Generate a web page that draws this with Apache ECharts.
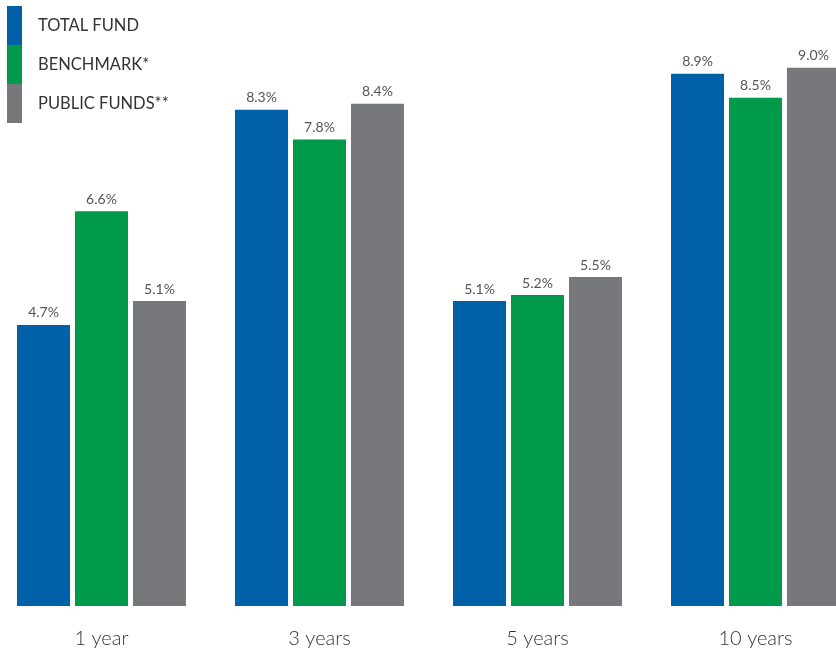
<!DOCTYPE html>
<html><head><meta charset="utf-8">
<script src="https://cdn.jsdelivr.net/npm/echarts@6/dist/echarts.min.js"></script>
<style>html,body{margin:0;padding:0;background:#fff}#c{width:836px;height:655px}</style>
</head><body><div id="c"></div>
<script>
const categories = ['1 year', '3 years', '5 years', '10 years'];
const totalFund = [4.7, 8.3, 5.1, 8.9];
const benchmark = [6.6, 7.8, 5.2, 8.5];
const publicFunds = [5.1, 8.4, 5.5, 9.0];
const seriesNames = ['TOTAL FUND', 'BENCHMARK*', 'PUBLIC FUNDS**'];
const colors = ['#0061a8', '#009a4a', '#77787b'];

const chart = echarts.init(document.getElementById('c'));
const label = {show: true, position: 'top', distance: 5, formatter: p => p.value.toFixed(1) + '%', color: '#555', fontSize: 14, fontFamily: 'Lato'};
const mk = (name, data, color) => ({name, type: 'bar', data, barWidth: 53, barGap: '9.4%', itemStyle: {color}, label});
chart.setOption({
  animation: false,
  legend: {orient: 'vertical', left: 2, top: 1, itemWidth: 15, itemHeight: 39, itemGap: 0, icon: 'rect',
    textStyle: {color: '#333', fontSize: 16.5, fontFamily: 'Lato', padding: [0, 0, 5, 11]}, data: seriesNames},
  grid: {left: -7.5, width: 872, top: 8, bottom: 49, containLabel: false, outerBoundsMode: 'none'},
  xAxis: {type: 'category', data: categories, axisLine: {show: false}, axisTick: {show: false},
    axisLabel: {color: '#333', fontSize: 20, fontFamily: 'Lato', fontWeight: 300, margin: 23}},
  yAxis: {type: 'value', min: 0, max: 10, show: false, splitLine: {show: false}},
  series: [mk(seriesNames[0], totalFund, colors[0]), mk(seriesNames[1], benchmark, colors[1]), mk(seriesNames[2], publicFunds, colors[2])]
});
</script></body></html>
